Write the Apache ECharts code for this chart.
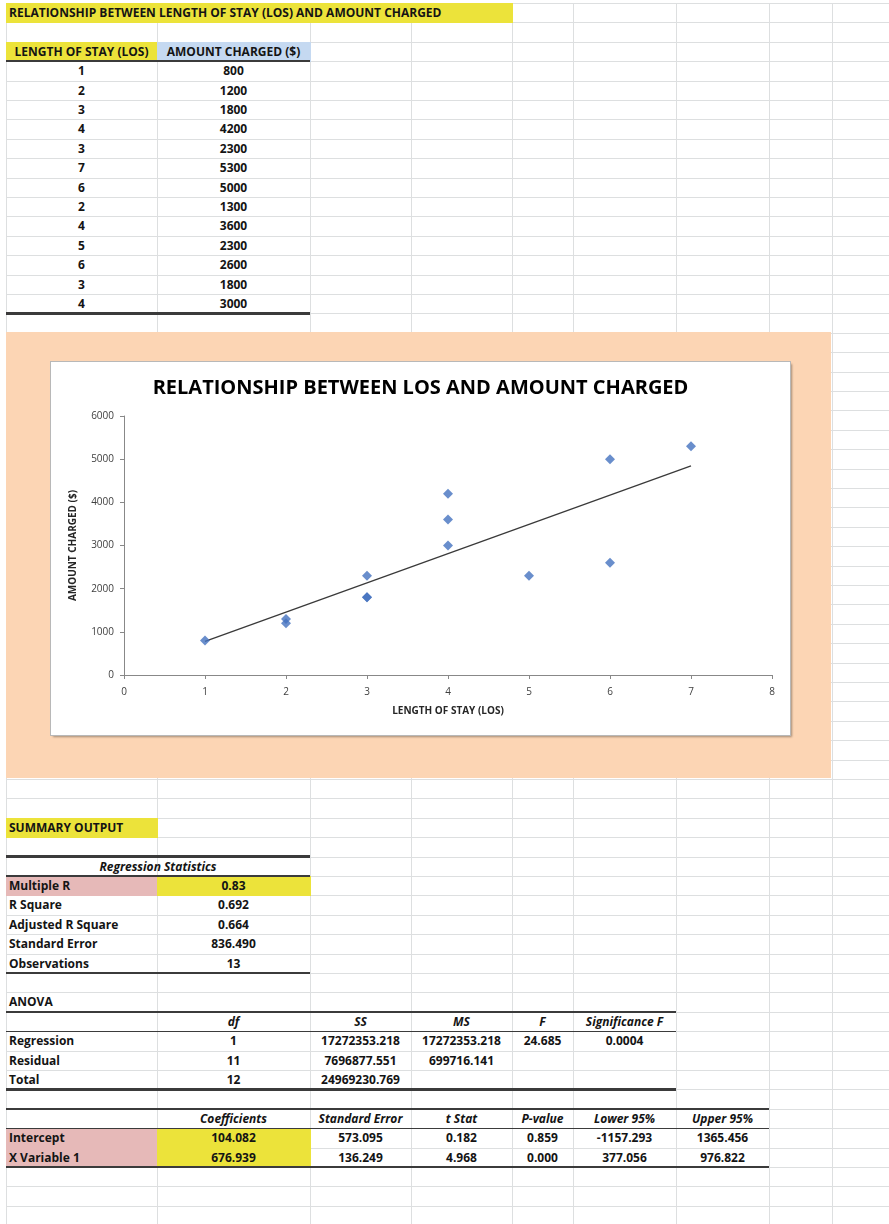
<!DOCTYPE html>
<html>
<head>
<meta charset="utf-8">
<script src="https://cdn.jsdelivr.net/npm/echarts@6/dist/echarts.min.js"></script>
<style>
  html, body { margin: 0; padding: 0; background: #fff; }
  #sheet { position: relative; width: 889px; height: 1224px; overflow: hidden; background: #fff;
           font-family: "Open Sans", "Noto Sans", sans-serif; font-weight: bold; font-size: 12px; color: #141414; }
  .el { position: absolute; box-sizing: border-box; }
  .txt { position: absolute; white-space: nowrap; line-height: 19.4px; height: 19.4px; }
  #chart { position: absolute; left: 51px; top: 362px; width: 739px; height: 373px;
           box-shadow: 0 0 0 1px #b8b8b8, 2px 2px 2px rgba(0,0,0,0.35); background: #fff; }
</style>
</head>
<body>
<div id="sheet"></div>
<script>
// ---------------- DATA ----------------
const sheetTitle = 'RELATIONSHIP BETWEEN LENGTH OF STAY (LOS) AND AMOUNT CHARGED';
const dataHeaders = ['LENGTH OF STAY (LOS)', 'AMOUNT CHARGED ($)'];
const losValues = [1, 2, 3, 4, 3, 7, 6, 2, 4, 5, 6, 3, 4];
const amountValues = [800, 1200, 1800, 4200, 2300, 5300, 5000, 1300, 3600, 2300, 2600, 1800, 3000];

const chartTitle = 'RELATIONSHIP BETWEEN LOS AND AMOUNT CHARGED';
const xAxisTitle = 'LENGTH OF STAY (LOS)';
const yAxisTitle = 'AMOUNT CHARGED ($)';
const trendX = [1, 7];
const trendY = [781, 4843];

const summaryTitle = 'SUMMARY OUTPUT';
const regStatsHeader = 'Regression Statistics';
const regStatLabels = ['Multiple R', 'R Square', 'Adjusted R Square', 'Standard Error', 'Observations'];
const regStatValues = ['0.83', '0.692', '0.664', '836.490', '13'];

const anovaTitle = 'ANOVA';
const anovaHeaders = ['', 'df', 'SS', 'MS', 'F', 'Significance F'];
const anovaRegression = ['Regression', '1', '17272353.218', '17272353.218', '24.685', '0.0004'];
const anovaResidual = ['Residual', '11', '7696877.551', '699716.141', '', ''];
const anovaTotal = ['Total', '12', '24969230.769', '', '', ''];

const coefHeaders = ['', 'Coefficients', 'Standard Error', 't Stat', 'P-value', 'Lower 95%', 'Upper 95%'];
const coefIntercept = ['Intercept', '104.082', '573.095', '0.182', '0.859', '-1157.293', '1365.456'];
const coefX1 = ['X Variable 1', '676.939', '136.249', '4.968', '0.000', '377.056', '976.822'];

// ---------------- LAYOUT ----------------
const colX = [6, 157, 310, 411, 512, 573, 676, 769, 832, 900];
const ROW0 = 3, ROWH = 19.4, NROWS = 64;
const ry = r => ROW0 + r * ROWH;
const YELLOW = '#ECE33A', PINK = '#E6B9B8', BLUE = '#C5D9F1', ORANGE = '#FCD5B4';
const GRID = '#dddfe0', BORDER = '#3b3b3b';

const sheet = document.getElementById('sheet');
function box(x, y, w, h, bg, z) {
  const d = document.createElement('div');
  d.className = 'el';
  d.style.cssText = `left:${x}px;top:${y}px;width:${w}px;height:${h}px;background:${bg};z-index:${z||1}`;
  sheet.appendChild(d); return d;
}
function fillCells(c0, c1, r0, r1, color) {
  box(colX[c0], ry(r0), colX[c1] - colX[c0] + 1, ry(r1) - ry(r0) + 0.6, color, 2);
}
function hBorder(c0, c1, r, thick) {
  const t = thick ? 2.4 : 1.2;
  box(colX[c0], ry(r) - t / 2, colX[c1] - colX[c0], t, BORDER, 3);
}
function text(str, c0, c1, r, align, italic) {
  if (str === '') return;
  const d = document.createElement('div');
  d.className = 'txt';
  const x0 = colX[c0], x1 = colX[c1];
  d.style.top = ry(r) + 'px';
  d.style.zIndex = 4;
  if (align === 'left') { d.style.left = (x0 + 3) + 'px'; }
  else { d.style.left = x0 + 'px'; d.style.width = (x1 - x0) + 'px'; d.style.textAlign = 'center'; }
  if (italic) d.style.fontStyle = 'italic';
  d.textContent = str;
  sheet.appendChild(d);
}

// gridlines
for (let i = 0; i < colX.length; i++) box(colX[i], ry(0), 1, 1224, GRID, 1);
for (let r = 0; r <= NROWS; r++) box(colX[0], ry(r), 900, 1, GRID, 1);

// title row
fillCells(0, 4, 0, 1, YELLOW);
text(sheetTitle, 0, 4, 0, 'left');

// data table
fillCells(0, 1, 2, 3, YELLOW);
fillCells(1, 2, 2, 3, BLUE);
text(dataHeaders[0], 0, 1, 2, 'center');
text(dataHeaders[1], 1, 2, 2, 'center');
hBorder(0, 2, 3, true);
losValues.forEach((v, i) => {
  text(String(v), 0, 1, 3 + i, 'center');
  text(String(amountValues[i]), 1, 2, 3 + i, 'center');
});
hBorder(0, 2, 3 + losValues.length, true);

// summary output
fillCells(0, 1, 42, 43, YELLOW);
text(summaryTitle, 0, 1, 42, 'left');
hBorder(0, 2, 44, true);
text(regStatsHeader, 0, 2, 44, 'center', true);
hBorder(0, 2, 45, false);
fillCells(0, 1, 45, 46, PINK);
fillCells(1, 2, 45, 46, YELLOW);
regStatLabels.forEach((l, i) => {
  text(l, 0, 1, 45 + i, 'left');
  text(regStatValues[i], 1, 2, 45 + i, 'center');
});
hBorder(0, 2, 50, true);

// ANOVA
text(anovaTitle, 0, 1, 51, 'left');
hBorder(0, 6, 52, true);
anovaHeaders.forEach((h, c) => { if (c > 0) text(h, c, c + 1, 52, 'center', true); });
hBorder(0, 6, 53, false);
[anovaRegression, anovaResidual, anovaTotal].forEach((row, i) => {
  row.forEach((v, c) => text(v, c, c + 1, 53 + i, c === 0 ? 'left' : 'center'));
});
hBorder(0, 6, 56, true);

// coefficients
hBorder(0, 7, 57, true);
coefHeaders.forEach((h, c) => { if (c > 0) text(h, c, c + 1, 57, 'center', true); });
hBorder(0, 7, 58, false);
fillCells(0, 1, 58, 60, PINK);
fillCells(1, 2, 58, 60, YELLOW);
[coefIntercept, coefX1].forEach((row, i) => {
  row.forEach((v, c) => text(v, c, c + 1, 58 + i, c === 0 ? 'left' : 'center'));
});
hBorder(0, 7, 60, true);

// chart area (orange) + chart
box(6, 332, 825, 446, ORANGE, 5);
const chartDiv = document.createElement('div');
chartDiv.id = 'chart';
chartDiv.style.zIndex = 6;
sheet.appendChild(chartDiv);

const chart = echarts.init(chartDiv, null, { renderer: 'canvas' });
const FONT = '"Open Sans", "Noto Sans", sans-serif';
chart.setOption({
  animation: false,
  backgroundColor: '#ffffff',
  title: {
    text: chartTitle, left: 'center', top: 11,
    textStyle: { fontFamily: FONT, fontWeight: 'bold', fontSize: 20, color: '#000' }
  },
  grid: { left: 73, right: 18, top: 54, bottom: 60, containLabel: false },
  xAxis: {
    type: 'value', min: 0, max: 8, interval: 1,
    name: xAxisTitle, nameLocation: 'middle', nameGap: 31,
    nameTextStyle: { fontFamily: FONT, fontWeight: 'bold', fontSize: 10, color: '#262626' },
    axisLine: { show: true, lineStyle: { color: '#888', width: 1 } },
    axisTick: { show: true, length: 4, lineStyle: { color: '#888' } },
    axisLabel: { fontFamily: FONT, fontSize: 10, color: '#404040', margin: 12 },
    splitLine: { show: false }
  },
  yAxis: {
    type: 'value', min: 0, max: 6000, interval: 1000,
    name: yAxisTitle, nameLocation: 'middle', nameGap: 46, nameRotate: 90,
    nameTextStyle: { fontFamily: FONT, fontWeight: 'bold', fontSize: 10, color: '#262626' },
    axisLine: { show: true, lineStyle: { color: '#888', width: 1 } },
    axisTick: { show: true, length: 4, lineStyle: { color: '#888' } },
    axisLabel: { fontFamily: FONT, fontSize: 10, color: '#404040', margin: 10,
                 formatter: v => String(v) },
    splitLine: { show: false }
  },
  series: [
    {
      type: 'line', data: trendX.map((x, i) => [x, trendY[i]]),
      symbol: 'none', lineStyle: { color: '#3a3a3a', width: 1.3 }, z: 1, silent: true
    },
    {
      type: 'scatter', data: losValues.map((x, i) => [x, amountValues[i]]),
      symbol: 'diamond', symbolSize: 10, itemStyle: { color: '#4372BF' }, z: 2
    }
  ]
});
</script>
</body>
</html>
